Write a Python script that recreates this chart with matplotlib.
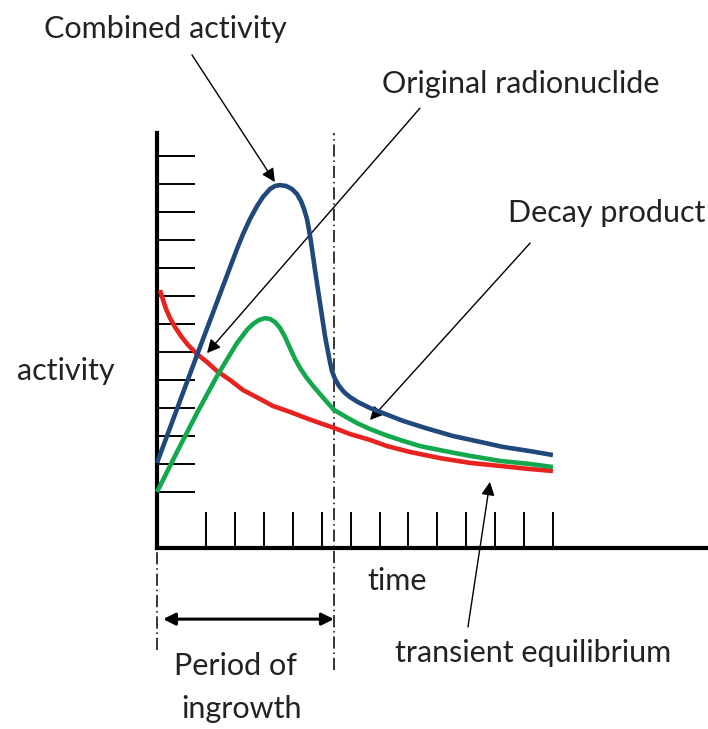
import matplotlib
matplotlib.use("Agg")
import matplotlib.pyplot as plt

plt.rcParams['font.family'] = ['Lato', 'DejaVu Sans']

# time axis in tick-spacing units, activity in tick-spacing units
x_ticks = [1.7, 2.7, 3.7, 4.7, 5.7, 6.7, 7.7, 8.7, 9.7, 10.7, 11.7, 12.7, 13.7]
y_ticks = [2, 3, 4, 5, 6, 7, 8, 9, 10, 11, 12, 13, 14]

# combined activity (blue)
comb_t = [0.000, 1.384, 2.768, 2.976, 3.218, 3.460, 3.668, 3.910, 4.083, 4.256,
          4.464, 4.671, 4.844, 4.983, 5.087, 5.190, 5.260, 5.329, 5.398, 5.467,
          5.640, 5.813, 5.917, 5.986, 6.055, 6.159, 6.298, 6.471, 6.678, 6.955,
          7.370, 7.889, 8.512, 9.273, 10.24, 11.18, 11.97, 12.91, 13.70]
comb_a = [3.04, 6.89, 10.68, 11.21, 11.75, 12.21, 12.54, 12.82, 12.93, 12.96,
          12.93, 12.82, 12.64, 12.39, 12.11, 11.75, 11.36, 10.93, 10.43, 9.93,
          8.75, 7.57, 7.00, 6.64, 6.32, 6.04, 5.79, 5.57, 5.39, 5.21,
          5.00, 4.79, 4.54, 4.29, 4.00, 3.79, 3.61, 3.46, 3.32]

# decay product (green)
prod_t = [0.000, 0.692, 1.384, 2.076, 2.768, 3.114, 3.322, 3.529, 3.737, 3.910,
          4.083, 4.256, 4.429, 4.602, 4.775, 4.948, 5.156, 5.398, 5.640, 5.882,
          6.125, 6.540, 6.920, 7.370, 7.889, 8.408, 9.100, 9.965, 10.83, 11.87,
          12.91, 13.70]
prod_a = [2.00, 3.43, 4.82, 6.14, 7.32, 7.79, 8.00, 8.14, 8.21, 8.18,
          8.07, 7.86, 7.54, 7.14, 6.75, 6.43, 6.11, 5.79, 5.50, 5.21,
          4.93, 4.68, 4.46, 4.25, 4.04, 3.86, 3.64, 3.46, 3.29, 3.11,
          3.00, 2.89]

# original radionuclide (red)
orig_t = [0.104, 0.208, 0.311, 0.450, 0.623, 0.830, 1.073, 1.384, 1.730, 2.076,
          2.526, 2.976, 3.495, 4.014, 4.602, 5.052, 5.640, 6.125, 6.678, 7.370,
          7.958, 8.754, 9.792, 10.83, 11.87, 12.91, 13.70]
orig_a = [9.21, 8.86, 8.54, 8.21, 7.89, 7.57, 7.25, 6.93, 6.64, 6.32,
          6.00, 5.64, 5.36, 5.07, 4.86, 4.68, 4.46, 4.29, 4.07, 3.86,
          3.64, 3.43, 3.21, 3.04, 2.93, 2.82, 2.75]

ingrowth_end = 6.12

fig = plt.figure(figsize=(7.08, 7.29), dpi=100)
ax = fig.add_axes([157 / 708, 181 / 729, 551 / 708, 415 / 729])
ax.set_xlim(0, 551 / 28.9)
ax.set_ylim(0, 415 / 28)
for s in ['top', 'right']:
    ax.spines[s].set_visible(False)
for s in ['left', 'bottom']:
    ax.spines[s].set_linewidth(3)
    ax.spines[s].set_color('black')
ax.set_xticks(x_ticks)
ax.set_yticks(y_ticks)
ax.set_xticklabels([])
ax.set_yticklabels([])
ax.tick_params(axis='x', direction='in', length=26, width=1.4)
ax.tick_params(axis='y', direction='in', length=27, width=1.4)

kw = dict(lw=3.3, solid_joinstyle='round', solid_capstyle='butt', clip_on=False)
ax.plot(orig_t, orig_a, color='#e8231f', zorder=3, **kw)
ax.plot(prod_t, prod_a, color='#14a84e', zorder=4, **kw)
ax.plot(comb_t, comb_a, color='#1f497d', zorder=5, **kw)

# dash-dot guides
dd = dict(color='black', lw=1.1, dashes=(8, 2.5, 1, 2.5), clip_on=False)
ax.plot([ingrowth_end, ingrowth_end], [-4.36, 415 / 28], **dd)
ax.plot([0, 0], [-3.64, 0], **dd)

# period of ingrowth arrow
ax.annotate('', xy=(0.21, -2.54), xytext=(ingrowth_end, -2.54),
            arrowprops=dict(arrowstyle='<|-|>', lw=2.2, color='black',
                            mutation_scale=18, shrinkA=0, shrinkB=0),
            annotation_clip=False)

# labels with pointer arrows
arr = dict(arrowstyle='-|>', lw=1.0, color='black', mutation_scale=20,
           shrinkA=0, shrinkB=0)
ax.annotate('', xy=(4.08, 13.07), xytext=(1.21, 17.61), arrowprops=arr,
            annotation_clip=False)
ax.annotate('', xy=(1.73, 6.96), xytext=(9.10, 15.71), arrowprops=arr,
            annotation_clip=False)
ax.annotate('', xy=(7.37, 4.57), xytext=(12.91, 10.89), arrowprops=arr,
            annotation_clip=False)
ax.annotate('', xy=(11.52, 2.36), xytext=(10.76, -2.82), arrowprops=arr,
            annotation_clip=False)

fs = 22
tc = '#222222'
ax.text(0.29, 18.21, 'Combined activity', ha='center', va='baseline', fontsize=fs, color=tc)
ax.text(12.60, 16.25, 'Original radionuclide', ha='center', va='baseline', fontsize=fs, color=tc)
ax.text(15.57, 11.64, 'Decay product', ha='center', va='baseline', fontsize=fs, color=tc)
ax.text(-3.15, 6.0, 'activity', ha='center', va='baseline', fontsize=fs, color=tc)
ax.text(7.27, -1.5, 'time', ha='left', va='baseline', fontsize=fs, color=tc)
ax.text(13.01, -4.07, 'transient equilibrium', ha='center', va='baseline', fontsize=fs, color=tc)
ax.text(2.70, -4.54, 'Period of', ha='center', va='baseline', fontsize=fs, color=tc)
ax.text(2.91, -6.07, 'ingrowth', ha='center', va='baseline', fontsize=fs, color=tc)

fig.savefig('out.png', dpi=100)
